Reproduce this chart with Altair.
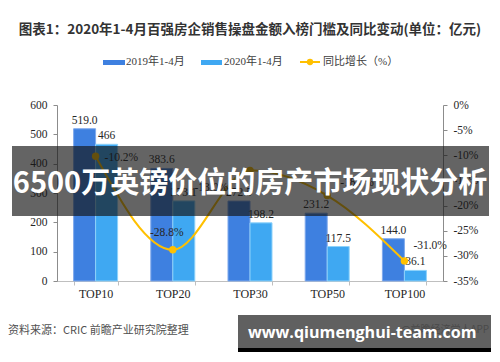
import altair as alt
import pandas as pd

# ---------------- data ----------------
cats = ["TOP10", "TOP20", "TOP30", "TOP50", "TOP100"]
series = ["2019年1-4月", "2020年1-4月"]
v2019 = [519.0, 383.6, 272.5, 231.2, 144.0]
v2020 = [466.0, 273.1, 198.2, 117.5, 36.1]
lab2019 = ["519.0", "383.6", "272.5", "231.2", "144.0"]
lab2020 = ["466", "273.1", "198.2", "117.5", "36.1"]
pct = [-10.2, -28.8, -13.0, -18.0, -31.0]
pct_labels = ["-10.2%", "-28.8%", "-13.0%", "-18.0%", "-31.0%"]
left_ticks = [0, 100, 200, 300, 400, 500, 600]
right_ticks = [0, -5, -10, -15, -20, -25, -30, -35]
line_name = "同比增长（%）"

title_text = "图表1：2020年1-4月百强房企销售操盘金额入榜门槛及同比变动(单位：亿元)"
source_text = "资料来源：CRIC 前瞻产业研究院整理"
overlay_text = "6500万英镑价位的房产市场现状分析"
banner_text = "www.qiumenghui-team.com"
watermark_text = "@前瞻经济学人APP"

bar_colors = ["#3E80E0", "#3FA8F2"]
bar_strokes = ["#7FA9EC", "#8ED2FA"]
line_color = "#FFC000"

bars_df = pd.DataFrame({
    "cat": cats * 2,
    "series": [series[0]] * len(cats) + [series[1]] * len(cats),
    "value": v2019 + v2020,
    "label": lab2019 + lab2020,
})
line_df = pd.DataFrame({"cat": cats, "pct": pct, "label": pct_labels})
one = pd.DataFrame({"k": [0]})

SERIF = "Liberation Serif, Noto Sans CJK SC"
SANS = "Noto Sans CJK SC"

xenc = alt.X(
    "cat:N", sort=cats,
    scale=alt.Scale(paddingInner=0.43, paddingOuter=0.215),
    axis=alt.Axis(title=None, labelAngle=0, tickBand="extent", tickSize=4,
                  domainColor="#bfbfbf", tickColor="#bfbfbf", labelPadding=3,
                  labelFont=SERIF, labelFontSize=12, labelColor="#262626"),
)
xoff = alt.XOffset("series:N", sort=series,
                   scale=alt.Scale(paddingInner=0, paddingOuter=0))
yleft = alt.Y(
    "value:Q",
    scale=alt.Scale(domain=[0, 600], nice=False),
    axis=alt.Axis(orient="left", values=left_ticks, title=None, grid=False,
                  tickSize=4, domainColor="#8c8c8c", tickColor="#8c8c8c",
                  labelPadding=6, labelFont=SERIF, labelFontSize=11.5,
                  labelColor="#262626"),
)
yright = alt.Y(
    "pct:Q",
    scale=alt.Scale(domain=[-35, 0], nice=False),
    axis=alt.Axis(orient="right", values=right_ticks, title=None, grid=False,
                  tickSize=4, domainColor="#8c8c8c", tickColor="#8c8c8c",
                  labelPadding=6, labelFont=SERIF, labelFontSize=11.5,
                  labelColor="#262626", labelExpr="datum.value + '%'"),
)

bars_base = alt.Chart(bars_df)
bars = bars_base.mark_bar(strokeWidth=1).encode(
    x=xenc, xOffset=xoff, y=yleft,
    color=alt.Color("series:N", sort=series,
                    scale=alt.Scale(domain=series, range=bar_colors), legend=None),
    stroke=alt.Stroke("series:N", sort=series,
                      scale=alt.Scale(domain=series, range=bar_strokes), legend=None),
)
bar_labels = bars_base.mark_text(font=SERIF, fontSize=11.5, color="#262626",
                                 baseline="alphabetic", dy=-5).encode(
    x=xenc, xOffset=xoff, y=yleft, text="label:N")
bar_layer = alt.layer(bars, bar_labels)

line_base = alt.Chart(line_df)
line = line_base.mark_line(color=line_color, strokeWidth=2, interpolate="monotone").encode(
    x=xenc, y=yright)
pts = line_base.mark_point(filled=True, size=55, color=line_color, opacity=1).encode(
    x=xenc, y=yright)

# per-category label placement (offsets only)
label_place = {
    "TOP10": dict(align="left", dx=9, dy=2),
    "TOP20": dict(align="center", dx=-6, dy=-17),
    "TOP30": dict(align="right", dx=-22, dy=18),
    "TOP50": dict(align="left", dx=13, dy=-13),
    "TOP100": dict(align="left", dx=9, dy=-15),
}
line_labels = []
for c in cats:
    p = label_place[c]
    line_labels.append(
        line_base.transform_filter(alt.datum.cat == c).mark_text(
            font=SERIF, fontSize=11.5, color="#262626", baseline="middle", **p
        ).encode(x=xenc, y=yright, text="label:N")
    )
line_layer = alt.layer(line, pts, *line_labels)


def txt(text, x, y, **kw):
    return alt.Chart(one).mark_text(**kw).encode(
        x=alt.value(x), y=alt.value(y), text=alt.value(text))


def rect(x, x2, y, y2, **kw):
    return alt.Chart(one).mark_rect(**kw).encode(
        x=alt.value(x), x2=alt.value(x2), y=alt.value(y), y2=alt.value(y2))


def rule(x, x2, y, **kw):
    return alt.Chart(one).mark_rule(**kw).encode(
        x=alt.value(x), x2=alt.value(x2), y=alt.value(y))


decos = [
    # title
    txt(title_text, 193, -75, font=SANS, fontSize=13.5, fontWeight="bold",
        color="#333333", align="center", baseline="middle"),
    # legend
    rect(46, 68, -45, -40, color=bar_colors[0]),
    txt(series[0], 69, -43, font=SERIF, fontSize=11, color="#404040",
        align="left", baseline="middle"),
    rect(144, 165, -45, -40, color=bar_colors[1]),
    txt(series[1], 167, -43, font=SERIF, fontSize=11, color="#404040",
        align="left", baseline="middle"),
    rule(243, 263, -43, color=line_color, strokeWidth=2),
    alt.Chart(one).mark_point(filled=True, size=40, color=line_color, opacity=1).encode(
        x=alt.value(253), y=alt.value(-43)),
    txt(line_name, 266, -43, font=SERIF, fontSize=11, color="#404040",
        align="left", baseline="middle"),
    # footer source
    txt(source_text, -49, 226, font=SANS, fontSize=11, color="#505050",
        align="left", baseline="middle"),
    # watermark text at bottom right
    txt(watermark_text, 344, 225, font=SANS, fontSize=10, color="#9a9a9a",
        align="left", baseline="middle"),
    # dark overlay band with headline
    rect(-45, 432, 41, 111, color="#141414", opacity=0.66),
    txt(overlay_text, 193, 79, font=SANS, fontSize=29, fontWeight="bold",
        color="#ffffff", align="center", baseline="middle"),
    # bottom banner
    rect(181, 434, 210, 243, color="#333333", opacity=0.78),
    rect(181, 434, 243, 247, color="#000000"),
    txt(banner_text, 191, 228, font="Open Sans", fontSize=16.1, fontWeight="bold",
        color="#ffffff", align="left", baseline="middle"),
]

chart = alt.layer(bar_layer, line_layer, *decos).resolve_scale(
    y="independent"
).properties(
    width=386, height=176,
    padding={"left": 49, "top": 97, "right": 49, "bottom": 73},
    autosize=alt.AutoSizeParams(type="none"),
    background="white",
).configure_view(stroke=None)

chart.save("out.html", embed_options={"renderer": "svg", "actions": False})
